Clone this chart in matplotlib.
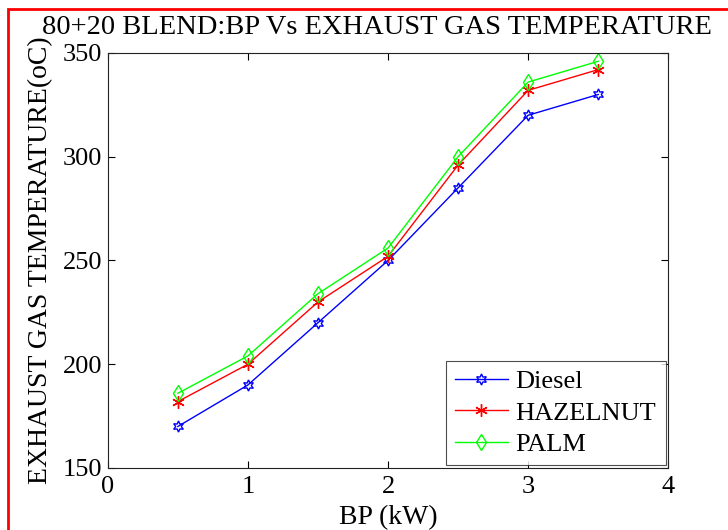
import numpy as np
import matplotlib.pyplot as plt
from matplotlib.patches import Rectangle

# data
bp = [0.5, 1.0, 1.5, 2.0, 2.5, 3.0, 3.5]
diesel = [170, 190, 220, 250, 285, 320, 330]
hazelnut = [182, 200, 230, 252, 296, 332, 342]
palm = [186, 204, 234, 256, 300, 336, 346]
x_ticks = [0, 1, 2, 3, 4]
y_ticks = [150, 200, 250, 300, 350]

plt.rcParams['font.family'] = ['Liberation Serif', 'DejaVu Serif']

fig = plt.figure(figsize=(7.28, 5.30), dpi=100)
ax = fig.add_axes([0.148, 0.117, 0.77, 0.783])

ax.plot(bp, diesel, color='blue', lw=1, marker=(6, 1, 0), ms=8, mfc='none', mew=1, label='Diesel')
ax.plot(bp, hazelnut, color='red', lw=1, marker=(6, 2, 0), ms=9, mew=1, label='HAZELNUT')
ax.plot(bp, palm, color='#00ff00', lw=1, marker='d', ms=8, mfc='none', mew=1, label='PALM')

ax.set_xlim(0, 4)
ax.set_ylim(150, 350)
ax.set_xticks(x_ticks)
ax.set_yticks(y_ticks)
ax.tick_params(direction='in', top=True, right=True, labelsize=19, length=5)
ax.tick_params(axis='y', pad=4)
ax.tick_params(axis='x', pad=6)
for s in ax.spines.values():
    s.set_linewidth(0.8)
    s.set_color('#222222')

ax.set_title('80+20 BLEND:BP Vs EXHAUST GAS TEMPERATURE', fontsize=20.5, pad=14, x=0.48)
ax.set_xlabel('BP (kW)', fontsize=20, labelpad=5)
ax.set_ylabel('EXHAUST GAS TEMPERATURE(oC)', fontsize=20, labelpad=7)

leg = ax.legend(loc='lower right', fontsize=19, frameon=True, fancybox=False,
                edgecolor='#222222', borderaxespad=0.1, handlelength=2.0,
                handletextpad=0.3, labelspacing=0.3, borderpad=0.35)
leg.get_frame().set_linewidth(0.8)

# red frame around the figure
fig.patches.append(Rectangle((8 / 728, -0.1), 1.2, (530 - 9) / 530 + 0.1,
                             transform=fig.transFigure, fill=False,
                             edgecolor='red', lw=2))

fig.savefig('out.png', dpi=100)
